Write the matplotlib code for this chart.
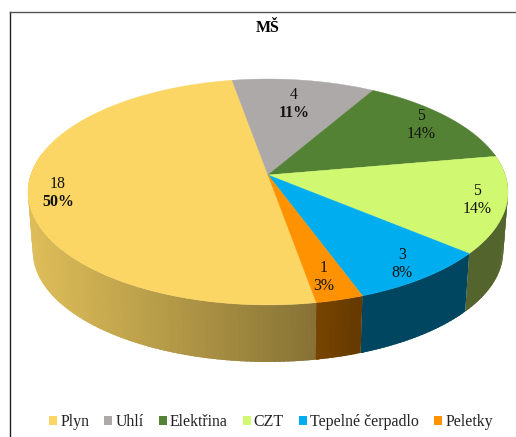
import matplotlib
matplotlib.use('Agg')
import matplotlib.pyplot as plt
from matplotlib.patches import Patch, Polygon
import numpy as np

title = 'MŠ'
categories = ['Plyn', 'Uhlí', 'Elektřina', 'CZT', 'Tepelné čerpadlo', 'Peletky']
counts = [18, 4, 5, 5, 3, 1]
percents = ['50%', '11%', '14%', '14%', '8%', '3%']
bold_percent = [True, True, False, False, False, False]
colors = ['#FBD664', '#ADA9A8', '#548235', '#D0F971', '#00AEEF', '#FF9200']

# where the two line labels sit, in pixels
label_pos = [(58, 193), (294, 104), (421, 125), (477, 200), (402, 264), (324, 277)]

# fake 3d pie: unit circle pushed through a perspective projection
cx, cy = 268, 175
A, B, K = 237.3, 110.4, 0.1504
depth, shrink = 59.6, 0.98
start_deg = 170  # clockwise from top


def project(ang, bottom=False):
    # ang is clockwise from top, radians
    c, s = np.sin(ang), np.cos(ang)
    w = 1 + K * s
    x, y = A * c / w, -B * s / w
    if bottom:
        return cx + shrink * x, cy + depth + shrink * y
    return cx + x, cy + y


def wall_shade(x):
    return np.interp(x, [33, 316, 317, 360, 510], [0.88, 0.53, 0.48, 0.40, 0.40])


def main():
    plt.rcParams['font.family'] = ['Liberation Serif', 'DejaVu Serif']
    fig = plt.figure(figsize=(5.16, 4.37), dpi=100)
    ax = fig.add_axes([0, 0, 1, 1])
    ax.set_xlim(0, 516)
    ax.set_ylim(437, 0)
    ax.axis('off')

    fracs = np.array(counts) / sum(counts)
    edges = np.radians(start_deg + 360 * np.concatenate([[0], np.cumsum(fracs)]))

    # side walls first, strips overlap the next one so no seams show
    for i, color in enumerate(colors):
        base = np.array(matplotlib.colors.to_rgb(color))
        steps = np.arange(edges[i], edges[i + 1] + 1e-9, np.radians(1))
        steps = np.append(steps, edges[i + 1])
        if edges[i] > np.radians(360):
            # the right hand slices run from the front towards the right edge,
            # paint them backwards so the front strip ends on top
            steps = steps[::-1]
        for a0, a1 in zip(steps[:-1], steps[1:]):
            mid = (a0 + a1) / 2
            if np.cos(mid) > 0.2:
                continue
            over = np.radians(0.8) * np.sign(a0 - a1)
            a_start = np.clip(a0 + over, edges[i], edges[i + 1])
            x0, y0 = project(a0)
            x1, y1 = project(a1)
            x0b, y0b = project(a_start)
            x2, y2 = project(a1, True)
            x3, y3 = project(a_start, True)
            shade = base * wall_shade((x0 + x1) / 2)
            ax.add_patch(Polygon([(x0b, y0b), (x1, y1), (x2, y2), (x3, y3)],
                                 fc=shade, ec='none', lw=0))

    # top of the pie
    for i, color in enumerate(colors):
        ang = np.linspace(edges[i], edges[i + 1], 120)
        xs, ys = project(ang)
        pts = np.column_stack([np.r_[cx, xs], np.r_[cy, ys]])
        ax.add_patch(Polygon(pts, fc=color, ec=color, lw=0.3))

    for i, (x, y) in enumerate(label_pos):
        ax.text(x, y - 9, str(counts[i]), ha='center', va='center', fontsize=11.4, color='#111111')
        ax.text(x, y + 9, percents[i], ha='center', va='center', fontsize=11.4, color='#111111',
                fontweight='bold' if bold_percent[i] else 'normal')

    ax.text(268, 28, title, ha='center', va='center', fontsize=11.4, fontweight='bold', color='#000000')

    # chart frame, cut off by the image at the bottom and right
    ax.plot([9.5, 9.5], [437, 12], color='#222222', lw=1)
    ax.plot([9.5, 516], [12, 12], color='#555555', lw=1)

    handles = [Patch(fc=c, ec='none') for c in colors]
    ax.legend(handles, categories, loc='center', bbox_to_anchor=(271 / 516, 1 - 422.5 / 437),
              ncol=6, frameon=False, fontsize=11.4, handlelength=0.5, handleheight=0.5,
              handletextpad=0.2, columnspacing=0.95, borderpad=0, labelcolor='#222222')

    plt.savefig('out.png', dpi=100)


if __name__ == '__main__':
    main()
